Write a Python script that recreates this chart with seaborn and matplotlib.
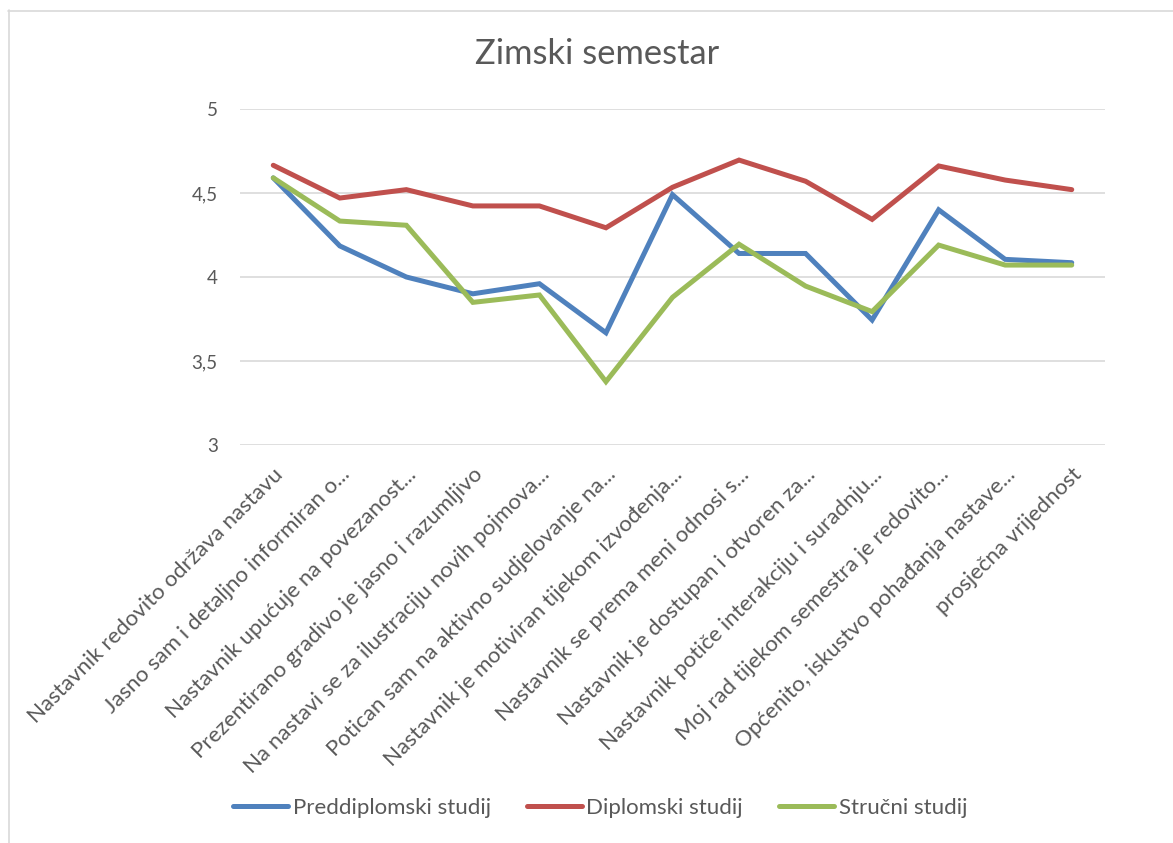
import numpy as np
import pandas as pd
import matplotlib
matplotlib.use("Agg")
import matplotlib.pyplot as plt
from matplotlib.lines import Line2D
import seaborn as sns

# data
categories = [
    "Nastavnik redovito održava nastavu",
    "Jasno sam i detaljno informiran o...",
    "Nastavnik upućuje na povezanost...",
    "Prezentirano gradivo je jasno i razumljivo",
    "Na nastavi se za ilustraciju novih pojmova...",
    "Potican sam na aktivno sudjelovanje na...",
    "Nastavnik je motiviran tijekom izvođenja...",
    "Nastavnik se prema meni odnosi s...",
    "Nastavnik je dostupan i otvoren za...",
    "Nastavnik potiče interakciju i suradnju...",
    "Moj rad tijekom semestra je redovito...",
    "Općenito, iskustvo pohađanja nastave...",
    "prosječna vrijednost",
]
preddiplomski = [4.59, 4.185, 4.00, 3.90, 3.96, 3.668, 4.49, 4.14, 4.14, 3.744, 4.40, 4.105, 4.085]
diplomski = [4.665, 4.47, 4.52, 4.423, 4.423, 4.293, 4.534, 4.696, 4.57, 4.343, 4.661, 4.577, 4.52]
strucni = [4.59, 4.333, 4.308, 3.849, 3.893, 3.377, 3.879, 4.195, 3.946, 3.794, 4.19, 4.071, 4.071]
series_names = ["Preddiplomski studij", "Diplomski studij", "Stručni studij"]
colors = ["#4F81BD", "#C0504D", "#9BBB59"]

df = pd.DataFrame({
    "pos": list(range(len(categories))) * 3,
    "value": preddiplomski + diplomski + strucni,
    "series": np.repeat(series_names, len(categories)),
})

sns.set_theme(style="white")
plt.rcParams["font.family"] = ["Lato", "DejaVu Sans"]
text_col = "#595959"

fig = plt.figure(figsize=(11.73, 8.43), dpi=100)
ax = fig.add_axes([240 / 1173, 1 - 445 / 843, 865 / 1173, 336 / 843])

sns.lineplot(data=df, x="pos", y="value", hue="series", palette=colors,
             hue_order=series_names, linewidth=3.6, ax=ax, legend=False,
             solid_capstyle="round", solid_joinstyle="miter")

ax.set_xlim(-0.5, len(categories) - 0.5)
ax.set_ylim(3, 5)
ax.set_yticks([3, 3.5, 4, 4.5, 5])
ax.set_yticklabels(["3", "3,5", "4", "4,5", "5"])
ax.set_xticks(range(len(categories)))
ax.set_xticklabels(categories, rotation=45, ha="right", rotation_mode="anchor")
ax.tick_params(axis="both", length=0, labelcolor=text_col)
ax.tick_params(axis="y", pad=16, labelsize=13.5)
ax.tick_params(axis="x", pad=14, labelsize=16)
ax.grid(axis="y", color="#D9D9D9", linewidth=1.2)
ax.set_axisbelow(True)
for s in ax.spines.values():
    s.set_visible(False)
ax.set_xlabel("")
ax.set_ylabel("")

fig.text(597 / 1173, 1 - 54 / 843, "Zimski semestar", ha="center", va="center",
         fontsize=24.8, color=text_col)

handles = [Line2D([], [], color=c, lw=3.6, solid_capstyle="round") for c in colors]
fig.legend(handles, series_names, loc="center", bbox_to_anchor=(600 / 1173, 1 - 808 / 843),
           ncol=3, frameon=False, fontsize=16, labelcolor=text_col,
           handlelength=2.5, handletextpad=0.2, columnspacing=1.6)

# chart area border (top and left visible)
fig.add_artist(Line2D([8 / 1173, 1], [1 - 10.5 / 843] * 2, color="#D9D9D9", lw=1.2,
                      transform=fig.transFigure))
fig.add_artist(Line2D([8.5 / 1173] * 2, [0, 1 - 10 / 843], color="#D9D9D9", lw=1.2,
                      transform=fig.transFigure))

fig.savefig("out.png", dpi=100, facecolor="white")
